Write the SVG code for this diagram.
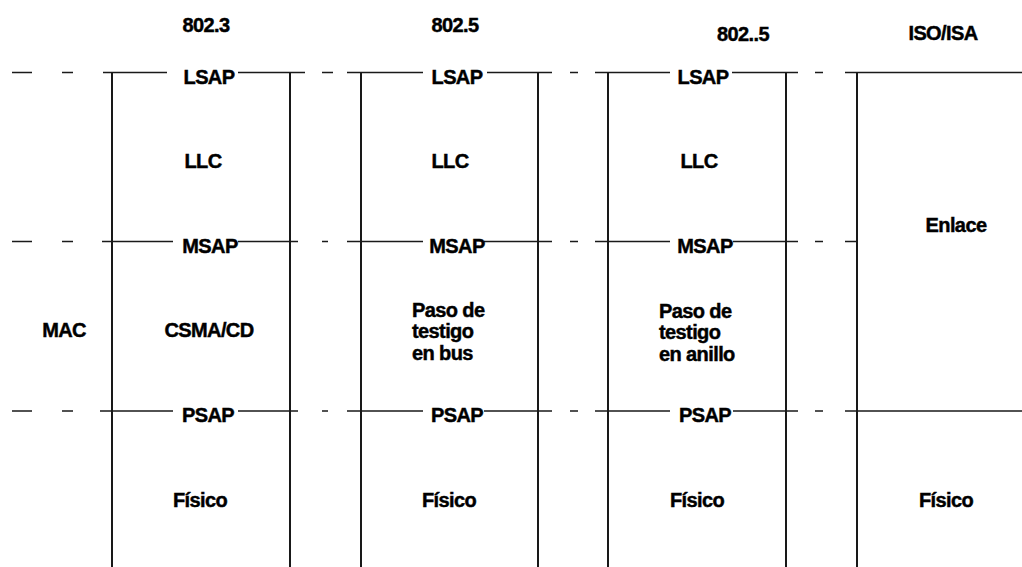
<svg xmlns="http://www.w3.org/2000/svg" width="1022" height="567" viewBox="0 0 1022 567">
<style>
.t{font-family:"Liberation Sans",Arial,sans-serif;font-weight:bold;font-size:20px;letter-spacing:-0.6px;fill:#000;stroke:#000;stroke-width:0.45;text-anchor:middle}
.l{text-anchor:start}
.ln{stroke:#000;stroke-width:1.8;fill:none}
.dl{stroke:#1a1a1a;stroke-width:1.7;fill:none}
</style>
<rect width="1022" height="567" fill="#fff"/>
<g id="connectors">
  <path class="ln" d="M112,72V567 M290,72V567 M361,72V567 M538,72V567 M608,72V567 M786,72V567 M857,72V567"/>
  <path class="dl" d="M12,72.5H32 M62,72.5H73 M103,72.5H167 M238,72.5H305 M322,72.5H333 M347,72.5H423 M487,72.5H552 M570,72.5H578 M595,72.5H670 M732,72.5H798 M815,72.5H823 M845,72.5H1022"/>
  <path class="dl" d="M12,241.5H32 M62,241.5H73 M102,241.5H173 M238,241.5H298 M322,241.5H328 M347,241.5H423 M484,241.5H552 M570,241.5H578 M595,241.5H670 M733,241.5H798 M815,241.5H823 M845,241.5H857"/>
  <path class="dl" d="M12,411H32 M62,411H73 M100,411H173 M238,411H298 M322,411H328 M347,411H423 M484,411H552 M570,411H578 M595,411H670 M733,411H798 M815,411H823 M845,411H1022"/>
</g>
<g id="mac-label">
  <text class="t" x="64" y="337">MAC</text>
</g>
<g id="col-8023">
  <text class="t" x="206" y="32">802.3</text>
  <text class="t" x="209" y="84">LSAP</text>
  <text class="t" x="203" y="168">LLC</text>
  <text class="t" x="210" y="253">MSAP</text>
  <text class="t" x="209" y="337">CSMA/CD</text>
  <text class="t" x="208" y="422">PSAP</text>
  <text class="t" x="200" y="507">Físico</text>
</g>
<g id="col-8025">
  <text class="t" x="455" y="32">802.5</text>
  <text class="t" x="457" y="84">LSAP</text>
  <text class="t" x="450" y="168">LLC</text>
  <text class="t" x="457" y="253">MSAP</text>
  <text class="t l" x="412" y="317">Paso de</text>
  <text class="t l" x="412" y="338">testigo</text>
  <text class="t l" x="412" y="360">en bus</text>
  <text class="t" x="457" y="422">PSAP</text>
  <text class="t" x="449" y="507">Físico</text>
</g>
<g id="col-80255">
  <text class="t" x="743" y="41">802..5</text>
  <text class="t" x="703" y="84">LSAP</text>
  <text class="t" x="699" y="168">LLC</text>
  <text class="t" x="705" y="253">MSAP</text>
  <text class="t l" x="659" y="318">Paso de</text>
  <text class="t l" x="659" y="339">testigo</text>
  <text class="t l" x="659" y="361">en anillo</text>
  <text class="t" x="705" y="422">PSAP</text>
  <text class="t" x="697" y="507">Físico</text>
</g>
<g id="col-iso">
  <text class="t" x="943" y="40">ISO/ISA</text>
  <text class="t" x="956" y="232">Enlace</text>
  <text class="t" x="946" y="507">Físico</text>
</g>
</svg>
